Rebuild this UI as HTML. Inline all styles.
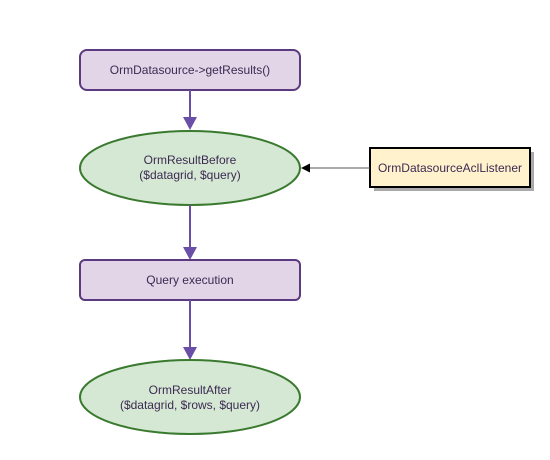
<!DOCTYPE html>
<html><head><style>body{margin:0;background:#fff}</style></head><body>
<svg width="550" height="455" xmlns="http://www.w3.org/2000/svg" font-family="Liberation Sans, sans-serif" font-size="12" fill="#3d2a52">
<defs>
<marker id="p" markerWidth="10" markerHeight="10" refX="9" refY="5" orient="auto" markerUnits="userSpaceOnUse"><path d="M0,0 L10,5 L0,10 Z" fill="#6a4fa8"/></marker>
</defs>
<rect x="80" y="50" width="220" height="40" rx="7" fill="#e1d5e7" stroke="#5b3a80" stroke-width="2"/>
<text x="190" y="74" text-anchor="middle">OrmDatasource-&gt;getResults()</text>
<line x1="190" y1="90" x2="190" y2="118" stroke="#6a4fa8" stroke-width="2"/>
<path d="M183,117 L197,117 L190,130 Z" fill="#6a4fa8"/>
<ellipse cx="190" cy="168" rx="110" ry="37" fill="#d5e8d4" stroke="#3a7a2f" stroke-width="2"/>
<text x="190" y="164" text-anchor="middle">OrmResultBefore</text>
<text x="190" y="179" text-anchor="middle">($datagrid, $query)</text>
<rect x="374" y="152" width="160" height="39" fill="#aaa"/>
<rect x="370" y="148" width="160" height="39" fill="#fff2cc" stroke="#000" stroke-width="2"/>
<text x="450" y="172" text-anchor="middle">OrmDatasourceAclListener</text>
<line x1="370" y1="168" x2="308" y2="168" stroke="#555" stroke-width="1"/>
<path d="M301,168 L310,163.5 L310,172.5 Z" fill="#000"/>
<line x1="190" y1="205" x2="190" y2="248" stroke="#6a4fa8" stroke-width="2"/>
<path d="M183,247 L197,247 L190,260 Z" fill="#6a4fa8"/>
<rect x="80" y="260" width="220" height="40" rx="5" fill="#e1d5e7" stroke="#5b3a80" stroke-width="2"/>
<text x="190" y="284" text-anchor="middle">Query execution</text>
<line x1="190" y1="300" x2="190" y2="348" stroke="#6a4fa8" stroke-width="2"/>
<path d="M183,347 L197,347 L190,360 Z" fill="#6a4fa8"/>
<ellipse cx="190" cy="397" rx="110" ry="37" fill="#d5e8d4" stroke="#3a7a2f" stroke-width="2"/>
<text x="190" y="394" text-anchor="middle">OrmResultAfter</text>
<text x="190" y="409" text-anchor="middle">($datagrid, $rows, $query)</text>
</svg>
</body></html>
